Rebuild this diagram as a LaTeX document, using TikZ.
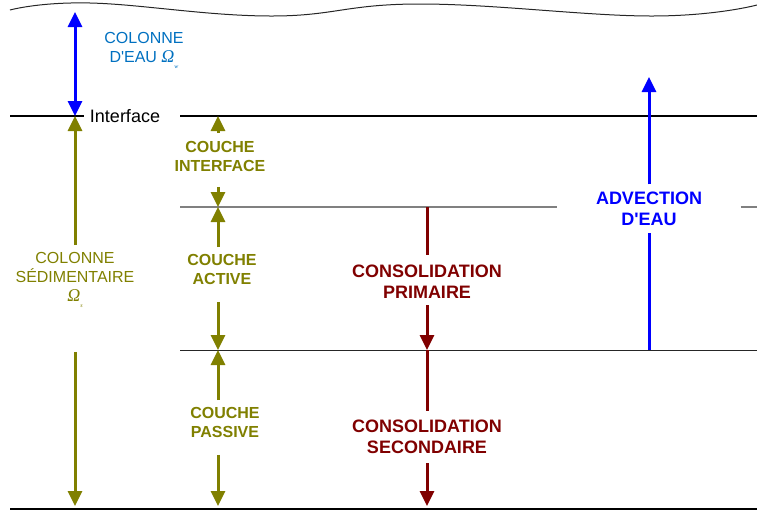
\documentclass[tikz,border=0pt]{standalone}
\usepackage{fontspec}
\setmainfont{Liberation Sans}
\newfontfamily\serifgrec{Liberation Serif}
\usetikzlibrary{arrows.meta, positioning, calc}
\definecolor{eaubleu}{RGB}{0,112,192}
\definecolor{bleuvif}{RGB}{0,0,255}
\definecolor{sedolive}{RGB}{128,128,0}
\definecolor{consrouge}{RGB}{128,0,0}
\newcommand{\omeg}[1]{{\fontsize{18}{19}\selectfont\serifgrec\itshape Ω}\raisebox{-6pt}[0pt][0pt]{\fontsize{6}{6}\selectfont\serifgrec\itshape #1}}

\begin{document}
\begin{tikzpicture}[x=1pt, y=-1pt,
    fleche/.style={line width=3pt, -{Triangle[length=15pt, width=14pt]}},
    flechedouble/.style={line width=3pt, {Triangle[length=15pt, width=14pt]}-{Triangle[length=15pt, width=14pt]}},
    tige/.style={line width=3pt},
    couche/.style={font=\fontsize{16}{19}\selectfont\bfseries, text=sedolive, align=center, inner sep=0pt},
    conso/.style={font=\fontsize{18}{21}\selectfont\bfseries, align=center, inner sep=0pt},
    colonne/.style={font=\fontsize{16}{19}\selectfont, align=center, inner sep=0pt}]

    \useasboundingbox (0,0) rectangle (757,512);

    % niveaux
    \coordinate (ifG) at (10,116);
    \coordinate (ifD) at (757,116);
    \coordinate (ifX) at (75,116);
    \coordinate (ifC) at (218,116);
    \coordinate (grisG) at (180,207);
    \coordinate (grisD) at (757,207);
    \coordinate (acC) at (218,207);
    \coordinate (acR) at (427,207);
    \coordinate (passG) at (180,350);
    \coordinate (passD) at (757,350);
    \coordinate (paC) at (218,350);
    \coordinate (paR) at (427,350);
    \coordinate (advB) at (649,350);
    \coordinate (advH) at (649,77);
    \coordinate (eauH) at (75,12);
    \coordinate (fondG) at (10,509);
    \coordinate (fondD) at (757,509);
    \coordinate (fond) at (75,506);
    \coordinate (foC) at (218,506);
    \coordinate (foR) at (427,506);

    \draw[line width=1pt, black!85] plot[smooth, tension=0.7] coordinates {(10,10) (90,3) (270,16) (420,4) (650,16) (757,5)};

    \node[font=\fontsize{18}{21}\selectfont, inner xsep=6pt, inner ysep=0pt] (iface) at (125,116) {Interface};
    \node[colonne, text=eaubleu] (eau) at (144,47.5) {COLONNE\\D\textquotesingle EAU \omeg{w}};
    \node[colonne, text=sedolive] (sed) at (75,277) {COLONNE\\SÉDIMENTAIRE\\\omeg{s}};
    \node[couche] (ci) at (220,156.5) {COUCHE\\INTERFACE};
    \node[couche] (ca) at (222,269.5) {COUCHE\\ACTIVE};
    \node[couche] (cp) at (225,422.5) {COUCHE\\PASSIVE};
    \node[conso, text=consrouge] (cpr) at (427,281.5) {CONSOLIDATION\\PRIMAIRE};
    \node[conso, text=consrouge] (cse) at (427,437) {CONSOLIDATION\\SECONDAIRE};
    \node[conso, text=bleuvif, minimum width=183pt, minimum height=48pt] (adv) at (649,208.5) {ADVECTION\\D\textquotesingle EAU};

    \draw[line width=2.2pt] (ifG) -- (iface.west);
    \draw[line width=2.2pt] ([xshift=14pt]iface.east) -- (ifD);
    \draw[line width=1.5pt, black!50] (grisG) -- (grisG -| adv.west);
    \draw[line width=1.5pt, black!50] (grisD -| adv.east) -- (grisD);
    \draw[line width=1pt, black!85] (passG) -- (passD);
    \draw[line width=1.5pt] (fondG) -- (fondD);

    \draw[flechedouble, bleuvif] (eauH) -- (ifX);
    \draw[fleche, sedolive, shorten <=7pt] (sed.north) -- (ifX);
    \draw[fleche, sedolive, shorten <=50pt] (sed.south) -- (fond);

    \draw[fleche, sedolive, shorten <=8pt] (ci.north -| ifC) -- (ifC);
    \draw[fleche, sedolive, shorten <=15pt] (ci.south -| acC) -- (acC);
    \draw[fleche, sedolive, shorten <=7pt] (ca.north -| acC) -- (acC);
    \draw[fleche, sedolive, shorten <=17pt] (ca.south -| paC) -- (paC);
    \draw[fleche, sedolive, shorten <=7pt] (cp.north -| paC) -- (paC);
    \draw[fleche, sedolive, shorten <=17pt] (cp.south -| foC) -- (foC);

    \draw[tige, consrouge, shorten >=10pt] (acR) -- (cpr.north -| acR);
    \draw[fleche, consrouge, shorten <=7pt] (cpr.south -| acR) -- (paR);
    \draw[tige, consrouge, shorten >=9pt] (paR) -- (cse.north -| paR);
    \draw[fleche, consrouge, shorten <=9pt] (cse.south -| paR) -- (foR);

    \draw[tige, bleuvif] (advB) -- (adv.south);
    \draw[fleche, bleuvif] (adv.north) -- (advH);
\end{tikzpicture}
\end{document}
